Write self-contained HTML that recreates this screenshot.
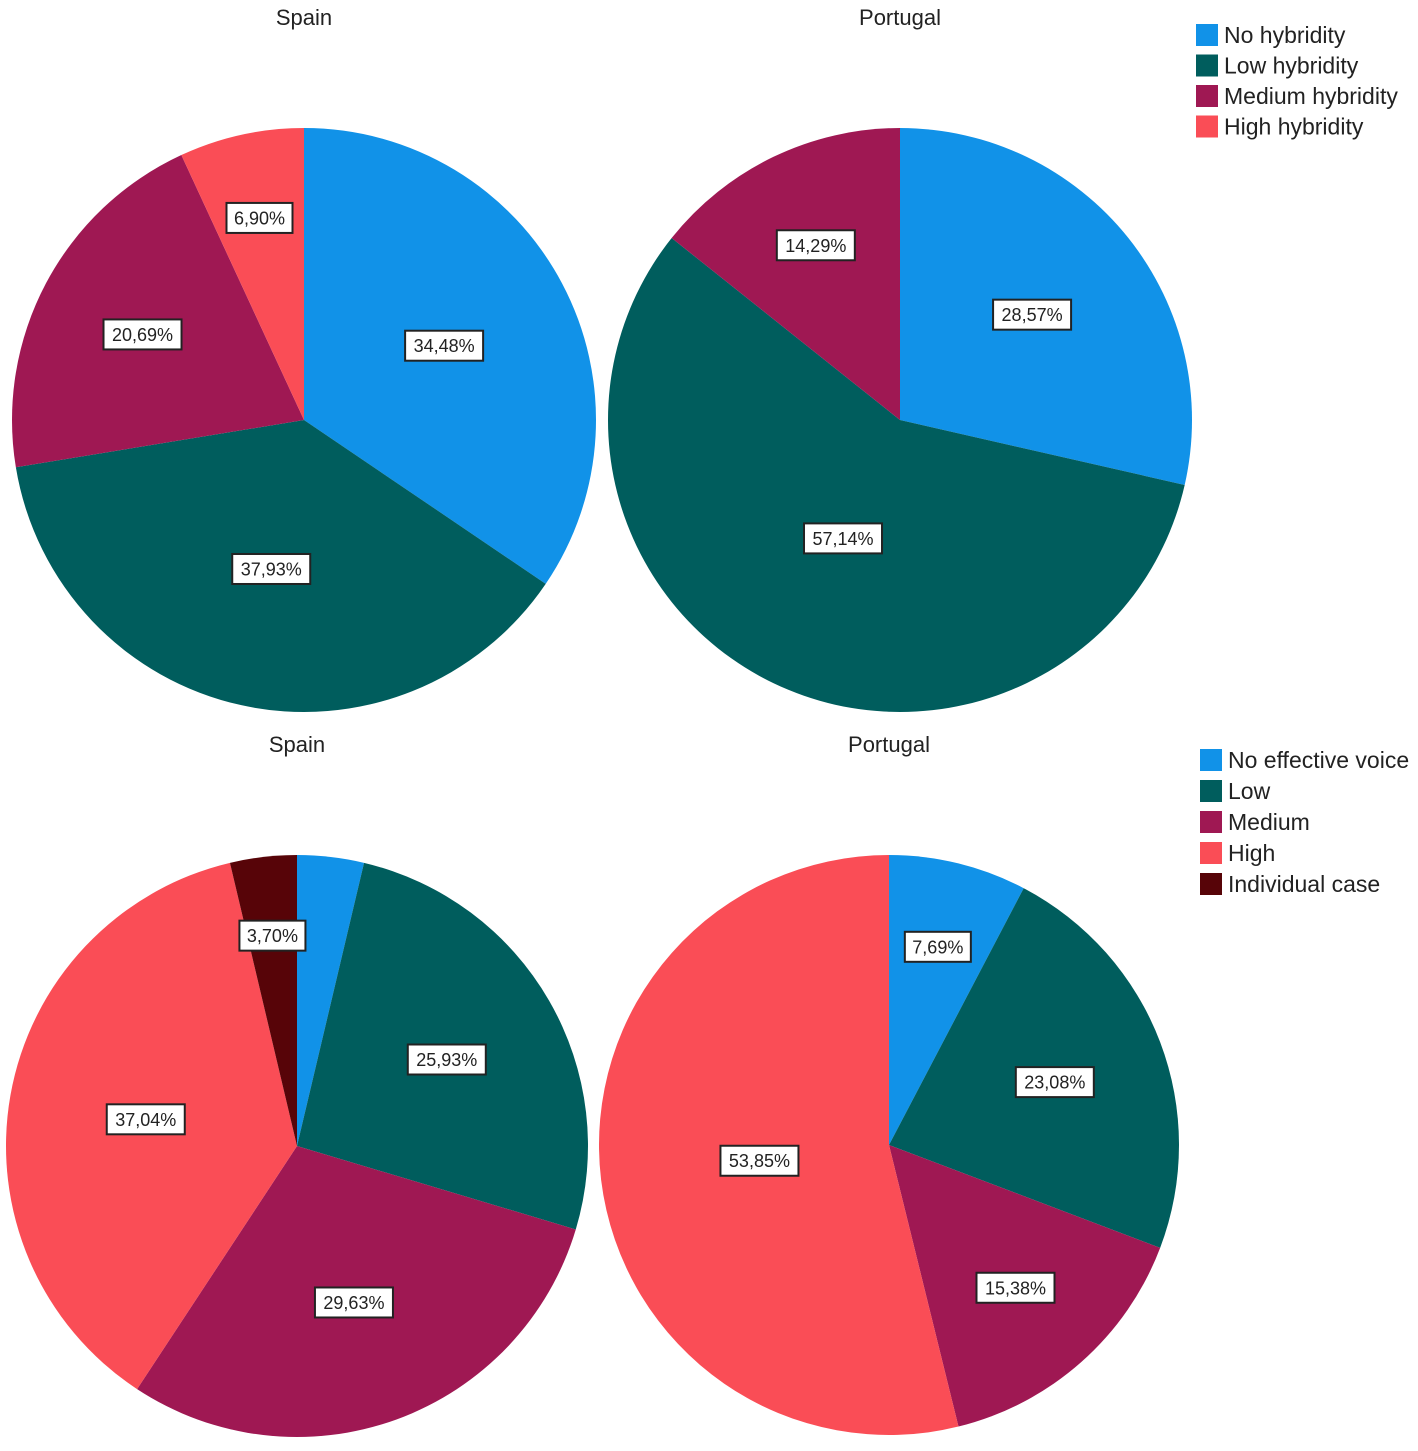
<!DOCTYPE html>
<html><head><meta charset="utf-8"><style>
html,body{margin:0;padding:0;background:#fff;}
body{width:1418px;height:1446px;overflow:hidden;font-family:"Liberation Sans",Arial,sans-serif;}
</style></head><body>
<svg id="chart" width="1418" height="1446" viewBox="0 0 1418 1446" xmlns="http://www.w3.org/2000/svg" font-family="Liberation Sans, Arial, sans-serif"></svg>
<script>
const hybridCategories = ["No hybridity","Low hybridity","Medium hybridity","High hybridity"];
const hybridSpain = [34.48,37.93,20.69,6.90];
const hybridPortugal = [28.57,57.14,14.29,0];
const voiceCategories = ["No effective voice","Low","Medium","High","Individual case"];
const voiceSpain = [3.70,25.93,29.63,37.04,3.70];
const voicePortugal = [7.69,23.08,15.38,53.85,0];
const voiceSpainLabeled = [false,true,true,true,true];
const colors5 = ["#1192e8","#005d5d","#9f1853","#fa4d56","#570408"];

const svg = document.getElementById('chart');
const NS = "http://www.w3.org/2000/svg";
function mk(tag, attrs){const e=document.createElementNS(NS,tag);for(const k in attrs)e.setAttribute(k,attrs[k]);return e;}

function drawPie(name, title, cx, cy, r, values, labeled){
  const g = mk('g',{});
  
  
  svg.appendChild(g);
  const t = mk('text',{x:cx,y:cy-r-103,'text-anchor':'middle','font-size':22,fill:'#222'});
  t.textContent = title;
  
  
  g.appendChild(t);
  const total = values.reduce((a,b)=>a+b,0);
  let acc = 0;
  const labels = [];
  values.forEach((v,i)=>{
    if(v<=0) return;
    const a0 = acc/total*2*Math.PI, a1 = (acc+v)/total*2*Math.PI;
    acc += v;
    const x0 = cx + r*Math.sin(a0), y0 = cy - r*Math.cos(a0);
    const x1 = cx + r*Math.sin(a1), y1 = cy - r*Math.cos(a1);
    const large = (a1-a0) > Math.PI ? 1 : 0;
    const p = mk('path',{d:`M${cx},${cy} L${x0},${y0} A${r},${r} 0 ${large} 1 ${x1},${y1} Z`,fill:colors5[i]});
    
    
    g.appendChild(p);
    if(labeled && !labeled[i]) return;
    const pct = v/total*100;
    const frac = Math.max(0.45, 0.75 - 0.006*pct);
    const am = (a0+a1)/2;
    labels.push({x: cx + frac*r*Math.sin(am), y: cy - frac*r*Math.cos(am), txt: v.toFixed(2).replace('.',',') + '%', i});
  });
  labels.forEach(l=>{
    const w = l.txt.length > 5 ? 78 : 66;
    const b = mk('rect',{x:l.x-w/2,y:l.y-15,width:w,height:30,fill:'#fff',stroke:'#222','stroke-width':2});
    
    
    g.appendChild(b);
    const tx = mk('text',{x:l.x,y:l.y+6.5,'text-anchor':'middle','font-size':18,fill:'#222'});
    tx.textContent = l.txt;
    
    
    g.appendChild(tx);
  });
}

function drawLegend(name, x, y0, step, cats){
  const g = mk('g',{});
  
  
  svg.appendChild(g);
  cats.forEach((c,i)=>{
    const y = y0 + i*step;
    const s = mk('rect',{x:x,y:y-11,width:22,height:22,fill:colors5[i]});
    
    
    g.appendChild(s);
    const t = mk('text',{x:x+28,y:y+8,'font-size':23,fill:'#222'});
    t.textContent = c;
    
    
    g.appendChild(t);
  });
}

drawPie('hybridity-spain-pie','Spain',304,420,292,hybridSpain,null);
drawPie('hybridity-portugal-pie','Portugal',900,420,292,hybridPortugal,null);
drawPie('voice-spain-pie','Spain',297,1146,291,voiceSpain,voiceSpainLabeled);
drawPie('voice-portugal-pie','Portugal',889,1145,290,voicePortugal,null);
drawLegend('hybridity-legend',1196,35,30.5,hybridCategories);
drawLegend('voice-legend',1200,760,31,voiceCategories);
</script>
</body></html>
